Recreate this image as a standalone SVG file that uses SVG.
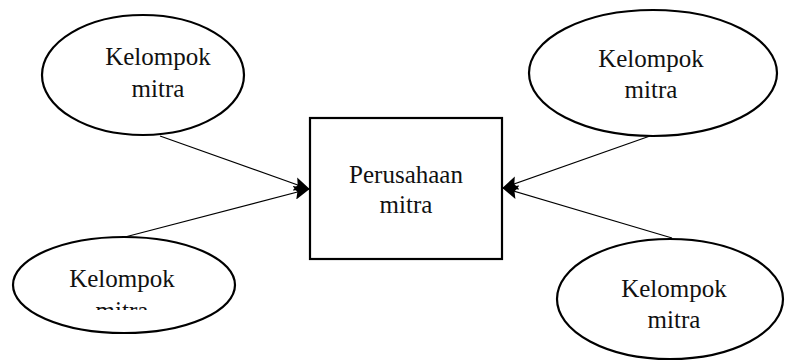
<svg xmlns="http://www.w3.org/2000/svg" width="785" height="362" viewBox="0 0 785 362">
<style>
.n{fill:#fff;stroke:#000;stroke-width:2.2}
.t{font-family:"Liberation Serif","Times New Roman",serif;font-size:25px;fill:#111;text-anchor:middle}
.c{stroke:#000;stroke-width:1.2;fill:none;marker-end:url(#ah)}
</style>
<defs>
<marker id="ah" viewBox="0 0 16 14" refX="15" refY="7" markerWidth="16" markerHeight="14" markerUnits="userSpaceOnUse" orient="auto">
<path d="M0,0 L16,7 L0,14 L3,7 Z" fill="#000"/>
</marker>
<clipPath id="clipBL"><rect x="0" y="230" width="300" height="80"/></clipPath>
</defs>
<g id="connectors">
<line class="c" x1="160" y1="136" x2="309" y2="189"/>
<line class="c" x1="125" y1="237" x2="309" y2="189"/>
<line class="c" x1="650" y1="136" x2="503" y2="188"/>
<line class="c" x1="672" y1="238" x2="503" y2="188"/>
</g>
<g id="perusahaan">
<rect class="n" x="310" y="118" width="192" height="141" stroke-width="2"/>
<text class="t" x="406" y="183">Perusahaan</text>
<text class="t" x="406" y="213">mitra</text>
</g>
<g id="kelompok-tl">
<ellipse class="n" cx="143" cy="75" rx="101" ry="60"/>
<text class="t" x="158" y="65">Kelompok</text>
<text class="t" x="158" y="97">mitra</text>
</g>
<g id="kelompok-tr">
<ellipse class="n" cx="653" cy="73" rx="124" ry="63"/>
<text class="t" x="651" y="67">Kelompok</text>
<text class="t" x="651" y="98">mitra</text>
</g>
<g id="kelompok-bl">
<ellipse class="n" cx="124" cy="285" rx="111" ry="48"/>
<text class="t" x="122" y="287">Kelompok</text>
<text class="t" x="122" y="319" clip-path="url(#clipBL)">mitra</text>
</g>
<g id="kelompok-br">
<ellipse class="n" cx="670" cy="299" rx="113" ry="60"/>
<text class="t" x="674" y="297">Kelompok</text>
<text class="t" x="674" y="328">mitra</text>
</g>
</svg>
